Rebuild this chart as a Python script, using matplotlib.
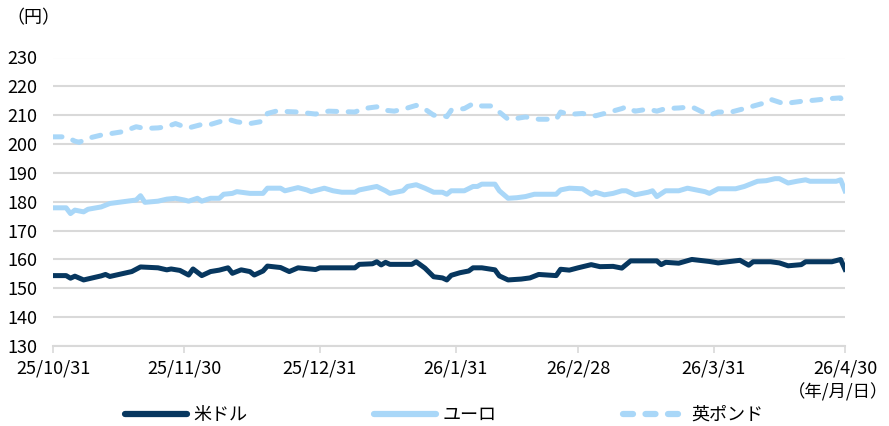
import matplotlib

matplotlib.use("Agg")
import matplotlib.pyplot as plt
import pandas as pd
from matplotlib.lines import Line2D

plt.rcParams["font.family"] = ["Noto Sans CJK JP", "DejaVu Sans"]

# --- data (円) ---
usd_dates = [
    "2025-10-31", "2025-11-03", "2025-11-04", "2025-11-05", "2025-11-07", "2025-11-11",
    "2025-11-12", "2025-11-13", "2025-11-18", "2025-11-20", "2025-11-24", "2025-11-26",
    "2025-11-27", "2025-11-29", "2025-12-01", "2025-12-02", "2025-12-04", "2025-12-06",
    "2025-12-08", "2025-12-10", "2025-12-11", "2025-12-13", "2025-12-15", "2025-12-16",
    "2025-12-18", "2025-12-19", "2025-12-22", "2025-12-24", "2025-12-26", "2025-12-30",
    "2025-12-31", "2026-01-08", "2026-01-09", "2026-01-12", "2026-01-13", "2026-01-14",
    "2026-01-15", "2026-01-16", "2026-01-21", "2026-01-22", "2026-01-24", "2026-01-26",
    "2026-01-28", "2026-01-29", "2026-01-30", "2026-02-01", "2026-02-03", "2026-02-04",
    "2026-02-06", "2026-02-09", "2026-02-10", "2026-02-12", "2026-02-15", "2026-02-17",
    "2026-02-19", "2026-02-23", "2026-02-24", "2026-02-26", "2026-02-28", "2026-03-03",
    "2026-03-05", "2026-03-08", "2026-03-10", "2026-03-12", "2026-03-18", "2026-03-19",
    "2026-03-20", "2026-03-23", "2026-03-26", "2026-03-30", "2026-04-01", "2026-04-06",
    "2026-04-08", "2026-04-09", "2026-04-13", "2026-04-15", "2026-04-17", "2026-04-20",
    "2026-04-21", "2026-04-27", "2026-04-29", "2026-04-30",
]
usd = [
    154.4, 154.4, 153.5, 154.2, 152.9, 154.3,
    154.8, 154.1, 155.8, 157.4, 157.1, 156.4,
    156.7, 156.2, 154.6, 156.7, 154.4, 155.8,
    156.3, 157.1, 155.2, 156.4, 155.8, 154.6,
    156.0, 157.7, 157.2, 155.8, 157.1, 156.5,
    157.1, 157.1, 158.3, 158.5, 159.2, 158.1,
    159.0, 158.3, 158.3, 159.2, 157.0, 154.0,
    153.6, 152.9, 154.5, 155.4, 156.0, 157.1,
    157.1, 156.4, 154.3, 152.9, 153.2, 153.6,
    154.8, 154.4, 156.6, 156.3, 157.1, 158.2,
    157.5, 157.6, 157.0, 159.5, 159.5, 158.2,
    159.0, 158.7, 160.0, 159.3, 158.8, 159.7,
    158.0, 159.2, 159.2, 158.8, 157.8, 158.2,
    159.2, 159.2, 160.0, 156.6,
]

eur_dates = [
    "2025-10-31", "2025-11-03", "2025-11-04", "2025-11-05", "2025-11-07", "2025-11-08",
    "2025-11-11", "2025-11-13", "2025-11-15", "2025-11-19", "2025-11-20", "2025-11-21",
    "2025-11-24", "2025-11-26", "2025-11-28", "2025-11-30", "2025-12-01", "2025-12-03",
    "2025-12-04", "2025-12-06", "2025-12-08", "2025-12-09", "2025-12-11", "2025-12-12",
    "2025-12-15", "2025-12-18", "2025-12-19", "2025-12-22", "2025-12-23", "2025-12-26",
    "2025-12-28", "2025-12-29", "2026-01-01", "2026-01-03", "2026-01-05", "2026-01-08",
    "2026-01-09", "2026-01-11", "2026-01-13", "2026-01-15", "2026-01-16", "2026-01-19",
    "2026-01-20", "2026-01-22", "2026-01-24", "2026-01-26", "2026-01-28", "2026-01-29",
    "2026-01-30", "2026-02-02", "2026-02-04", "2026-02-05", "2026-02-06", "2026-02-09",
    "2026-02-10", "2026-02-12", "2026-02-14", "2026-02-16", "2026-02-18", "2026-02-23",
    "2026-02-24", "2026-02-26", "2026-03-01", "2026-03-03", "2026-03-04", "2026-03-06",
    "2026-03-08", "2026-03-10", "2026-03-11", "2026-03-13", "2026-03-16", "2026-03-17",
    "2026-03-18", "2026-03-20", "2026-03-23", "2026-03-25", "2026-03-27", "2026-03-29",
    "2026-03-30", "2026-04-01", "2026-04-05", "2026-04-07", "2026-04-10", "2026-04-12",
    "2026-04-14", "2026-04-15", "2026-04-17", "2026-04-19", "2026-04-21", "2026-04-22",
    "2026-04-28", "2026-04-29", "2026-04-30",
]
eur = [
    177.9, 177.9, 175.9, 177.1, 176.5, 177.4,
    178.2, 179.4, 179.8, 180.6, 182.1, 179.8,
    180.2, 180.9, 181.2, 180.6, 180.2, 181.2,
    180.2, 181.2, 181.2, 182.6, 182.9, 183.5,
    182.9, 182.9, 184.7, 184.7, 183.8, 184.9,
    184.1, 183.5, 184.7, 183.8, 183.3, 183.3,
    184.1, 184.7, 185.3, 183.8, 182.9, 183.8,
    185.3, 185.9, 184.7, 183.3, 183.3, 182.6,
    183.8, 183.8, 185.3, 185.3, 186.1, 186.1,
    183.8, 181.2, 181.4, 181.8, 182.6, 182.6,
    184.1, 184.7, 184.5, 182.6, 183.3, 182.4,
    182.9, 183.8, 183.8, 182.4, 183.3, 183.8,
    181.8, 183.8, 183.8, 184.7, 184.1, 183.5,
    182.9, 184.5, 184.5, 185.3, 187.1, 187.3,
    188.0, 188.0, 186.5, 187.1, 187.6, 187.1,
    187.1, 187.6, 183.8,
]

gbp_dates = [
    "2025-10-31", "2025-11-03", "2025-11-05", "2025-11-06", "2025-11-08", "2025-11-11",
    "2025-11-16", "2025-11-19", "2025-11-21", "2025-11-24", "2025-11-26", "2025-11-28",
    "2025-11-30", "2025-12-01", "2025-12-04", "2025-12-06", "2025-12-10", "2025-12-12",
    "2025-12-15", "2025-12-18", "2025-12-19", "2025-12-21", "2025-12-26", "2025-12-30",
    "2026-01-02", "2026-01-08", "2026-01-10", "2026-01-13", "2026-01-15", "2026-01-17",
    "2026-01-20", "2026-01-22", "2026-01-24", "2026-01-26", "2026-01-28", "2026-01-29",
    "2026-01-30", "2026-02-02", "2026-02-04", "2026-02-06", "2026-02-08", "2026-02-10",
    "2026-02-12", "2026-02-14", "2026-02-16", "2026-02-19", "2026-02-23", "2026-02-24",
    "2026-02-26", "2026-03-01", "2026-03-04", "2026-03-06", "2026-03-10", "2026-03-11",
    "2026-03-13", "2026-03-16", "2026-03-18", "2026-03-20", "2026-03-23", "2026-03-26",
    "2026-03-28", "2026-03-30", "2026-04-01", "2026-04-04", "2026-04-07", "2026-04-11",
    "2026-04-13", "2026-04-16", "2026-04-20", "2026-04-23", "2026-04-26", "2026-04-29",
    "2026-04-30",
]
gbp = [
    202.5, 202.5, 201.0, 200.6, 202.0, 203.1,
    204.3, 206.0, 205.4, 205.6, 206.0, 207.1,
    206.0, 205.6, 206.8, 206.8, 208.6, 207.7,
    207.1, 207.9, 210.6, 211.4, 211.1, 210.4,
    211.4, 211.1, 212.3, 212.9, 211.7, 211.4,
    212.5, 213.4, 212.1, 210.0, 210.0, 209.5,
    211.7, 212.3, 214.0, 213.2, 213.2, 211.1,
    208.6, 208.9, 209.4, 208.6, 208.6, 211.1,
    210.3, 210.6, 209.8, 210.6, 212.3, 212.9,
    211.4, 212.1, 211.4, 212.3, 212.5, 212.9,
    211.4, 210.0, 211.1, 211.1, 212.3, 214.0,
    215.5, 214.0, 214.8, 215.2, 215.7, 216.0,
    212.9,
]

tick_dates = ["2025-10-31", "2025-11-30", "2025-12-31", "2026-01-31",
              "2026-02-28", "2026-03-31", "2026-04-30"]
tick_labels = ["25/10/31", "25/11/30", "25/12/31", "26/1/31",
               "26/2/28", "26/3/31", "26/4/30"]
y_ticks = [130, 140, 150, 160, 170, 180, 190, 200, 210, 220, 230]

series_names = ["米ドル", "ユーロ", "英ポンド"]
USD_COLOR = "#07375f"
LIGHT_BLUE = "#a9d7f8"
GRID = "#d9d9d9"
LW = 3.6
DASH = (0, (1.8, 2.3))

fig = plt.figure(figsize=(8.89, 4.26), dpi=100)
ax = fig.add_axes([53 / 889, 1 - 346 / 426, 792 / 889, (346 - 57.5) / 426])

ax.plot(pd.to_datetime(usd_dates), usd, color=USD_COLOR, lw=LW, solid_joinstyle="round", zorder=4)
ax.plot(pd.to_datetime(eur_dates), eur, color=LIGHT_BLUE, lw=LW, solid_joinstyle="round", zorder=3)
ax.plot(pd.to_datetime(gbp_dates), gbp, color=LIGHT_BLUE, lw=LW, ls=DASH,
        dash_capstyle="round", dash_joinstyle="round", zorder=3)

ax.set_xlim(pd.Timestamp(tick_dates[0]), pd.Timestamp(tick_dates[-1]))
ax.set_ylim(130, 230)
ax.set_yticks(y_ticks)
ax.set_xticks(pd.to_datetime(tick_dates))
ax.set_xticklabels(tick_labels)
ax.grid(axis="y", color=GRID, lw=1.5, zorder=0)
ax.set_axisbelow(True)

for side in ("top", "right", "left"):
    ax.spines[side].set_visible(False)
ax.spines["bottom"].set_color(GRID)
ax.spines["bottom"].set_linewidth(1.5)

ax.tick_params(axis="y", length=0, pad=11, labelsize=13, colors="black")
ax.tick_params(axis="x", length=5, width=1.2, color=GRID, direction="out",
               pad=5, labelsize=13)

fig.text(6 / 889, 1 - 18 / 426, "（円）", fontsize=13, va="center", ha="left")
fig.text(888 / 889, 1 - 392 / 426, "（年/月/日）", fontsize=12.5, va="center", ha="right")

handles = [
    Line2D([], [], color=USD_COLOR, lw=4.5, solid_capstyle="round"),
    Line2D([], [], color=LIGHT_BLUE, lw=4.5, solid_capstyle="round"),
    Line2D([], [], color=LIGHT_BLUE, lw=4.5, ls=(0, (1.6, 2.0)), dash_capstyle="round"),
]
fig.legend(handles, series_names, loc="lower center", bbox_to_anchor=(0.5, -0.025),
           ncol=3, frameon=False, fontsize=13, handlelength=3.4, handletextpad=0.4,
           columnspacing=7.0, borderpad=0.2)

fig.savefig("out.png", dpi=100)
